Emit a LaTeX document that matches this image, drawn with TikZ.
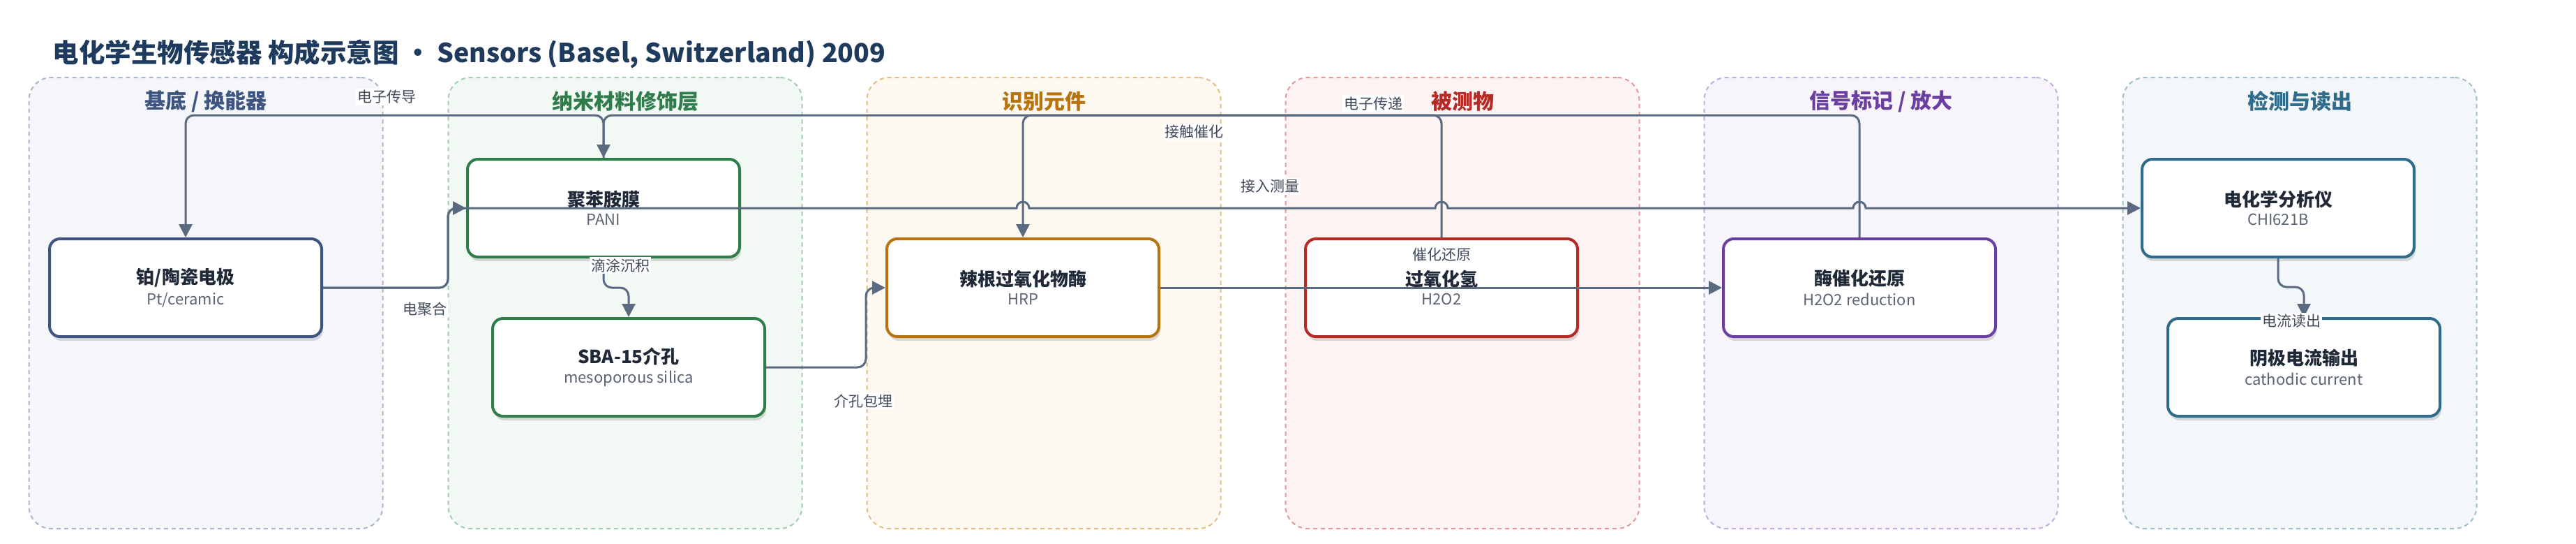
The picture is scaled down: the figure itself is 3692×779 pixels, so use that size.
\documentclass[tikz,border=0pt]{standalone}
\usepackage{fontspec}
\setmainfont{Noto Sans CJK SC}
\usetikzlibrary{arrows.meta,shadows}

\definecolor{titlecol}{HTML}{1E3A5C}
\definecolor{edgecol}{HTML}{5A6A80}
\definecolor{labelcol}{HTML}{3F4A5A}
\definecolor{maincol}{HTML}{1F2937}
\definecolor{subcol}{HTML}{5B6473}
% group colours: fill, dashed border, heading / box border
\definecolor{fillA}{HTML}{F4F6FA}\definecolor{lineA}{HTML}{A9B6CB}\definecolor{headA}{HTML}{3D5580}
\definecolor{fillB}{HTML}{F2F8F4}\definecolor{lineB}{HTML}{A3CDB0}\definecolor{headB}{HTML}{2E7D4A}
\definecolor{fillC}{HTML}{FDF8F0}\definecolor{lineC}{HTML}{E3BF85}\definecolor{headC}{HTML}{B8730C}
\definecolor{fillD}{HTML}{FDF3F3}\definecolor{lineD}{HTML}{E39999}\definecolor{headD}{HTML}{B52A24}
\definecolor{fillE}{HTML}{F7F4FB}\definecolor{lineE}{HTML}{BFAEDE}\definecolor{headE}{HTML}{6A3FA0}
\definecolor{fillF}{HTML}{F3F7F9}\definecolor{lineF}{HTML}{A0BFCC}\definecolor{headF}{HTML}{2F6B8A}

\newcommand{\boxtext}[2]{{\bfseries\fontsize{26}{30}\selectfont #1}\\[7pt]{\color{subcol}\fontsize{22}{26}\selectfont #2}}

\begin{document}
\begin{tikzpicture}[x=1pt,y=-1pt,
    group/.style={draw,dashed,dash pattern=on 6pt off 5pt,line width=2pt,rounded corners=32pt,
      minimum width=507pt,minimum height=646pt},
    grouphead/.style={font=\bfseries\fontsize{30}{34}\selectfont},
    part/.style={draw,fill=white,line width=4pt,rounded corners=15pt,minimum width=390pt,
      minimum height=140pt,align=center,text=maincol,
      drop shadow={shadow xshift=2pt,shadow yshift=-6pt,opacity=0.13,fill=black}},
    edge/.style={draw=edgecol,line width=3pt,rounded corners=12pt,
      -{Triangle[length=19pt,width=19pt]}},
    elabel/.style={fill=white,inner sep=2pt,text=labelcol,font=\fontsize{21}{24}\selectfont}]
  \useasboundingbox (0,0) rectangle (3692,779);
  \fill[white] (0,0) rectangle (3692,779);

  \node[anchor=west,text=titlecol,font=\bfseries\fontsize{37.5}{42}\selectfont] (title) at (72,77)
    {电化学生物传感器 构成示意图 · Sensors (Basel, Switzerland) 2009};

  \node[group,draw=lineA,fill=fillA] (transducer) at (295,434) {};
  \node[group,draw=lineB,fill=fillB] (nano) at (896,434) {};
  \node[group,draw=lineC,fill=fillC] (recog) at (1496,434) {};
  \node[group,draw=lineD,fill=fillD] (analyte) at (2096,434) {};
  \node[group,draw=lineE,fill=fillE] (signal) at (2696,434) {};
  \node[group,draw=lineF,fill=fillF] (readout) at (3296,434) {};

  \node[grouphead,text=headA] (transducer_head) at (295,145) {基底 / 换能器};
  \node[grouphead,text=headB] (nano_head) at (896,145) {纳米材料修饰层};
  \node[grouphead,text=headC] (recog_head) at (1496,145) {识别元件};
  \node[grouphead,text=headD] (analyte_head) at (2096,145) {被测物};
  \node[grouphead,text=headE] (signal_head) at (2696,145) {信号标记 / 放大};
  \node[grouphead,text=headF] (readout_head) at (3296,145) {检测与读出};

  \node[part,draw=headA] (electrode) at (266,412) {\boxtext{铂/陶瓷电极}{Pt/ceramic}};
  \node[part,draw=headB] (pani) at (865,298) {\boxtext{聚苯胺膜}{PANI}};
  \node[part,draw=headB] (sba) at (901,526) {\boxtext{SBA-15介孔}{mesoporous silica}};
  \node[part,draw=headC] (hrp) at (1466,412) {\boxtext{辣根过氧化物酶}{HRP}};
  \node[part,draw=headD] (h2o2) at (2066,412) {\boxtext{过氧化氢}{H2O2}};
  \node[part,draw=headE] (reduction) at (2665,412) {\boxtext{酶催化还原}{H2O2 reduction}};
  \node[part,draw=headF] (analyzer) at (3265,298) {\boxtext{电化学分析仪}{CHI621B}};
  \node[part,draw=headF] (current) at (3302,526) {\boxtext{阴极电流输出}{cathodic current}};

  \draw[edge] (pani.north) -- (865,165) -- (266,165) -- (electrode.north);
  \draw[edge] (reduction.north) -- (2665,165) -- (865,165) -- (pani.north);
  \draw[edge] (h2o2.north) -- (2066,165) -- (1466,165) -- (hrp.north);
  \draw[edge] (electrode.east) -- (642,412) -- (642,298) -- (pani.west);
  \draw[edge] (electrode.east) -- (642,412) -- (642,298) -- (700,298) [sharp corners]
    -- (1457,298) arc[start angle=180,end angle=0,radius=9pt]
    -- (2057,298) arc[start angle=180,end angle=0,radius=9pt]
    -- (2656,298) arc[start angle=180,end angle=0,radius=9pt] -- (analyzer.west);
  \draw[edge] (pani.south) -- (865,412) -- (901,412) -- (sba.north);
  \draw[edge] (sba.east) -- (1241,526) -- (1241,412) -- (hrp.west);
  \draw[edge] (hrp.east) -- (reduction.west);
  \draw[edge] (analyzer.south) -- (3265,411) -- (3302,411) -- (current.north);

  \node[elabel] (conduct_label) at (554,139) {电子传导};
  \node[elabel] (transfer_label) at (1968,148) {电子传递};
  \node[elabel] (contact_label) at (1711,189) {接触催化};
  \node[elabel] (measure_label) at (1820,267) {接入测量};
  \node[elabel] (poly_label) at (609,443) {电聚合};
  \node[elabel] (cast_label) at (889,380) {滴涂沉积};
  \node[elabel] (embed_label) at (1237,574) {介孔包埋};
  \node[elabel] (catal_label) at (2066,365) {催化还原};
  \node[elabel] (read_label) at (3284,460) {电流读出};
\end{tikzpicture}
\end{document}
